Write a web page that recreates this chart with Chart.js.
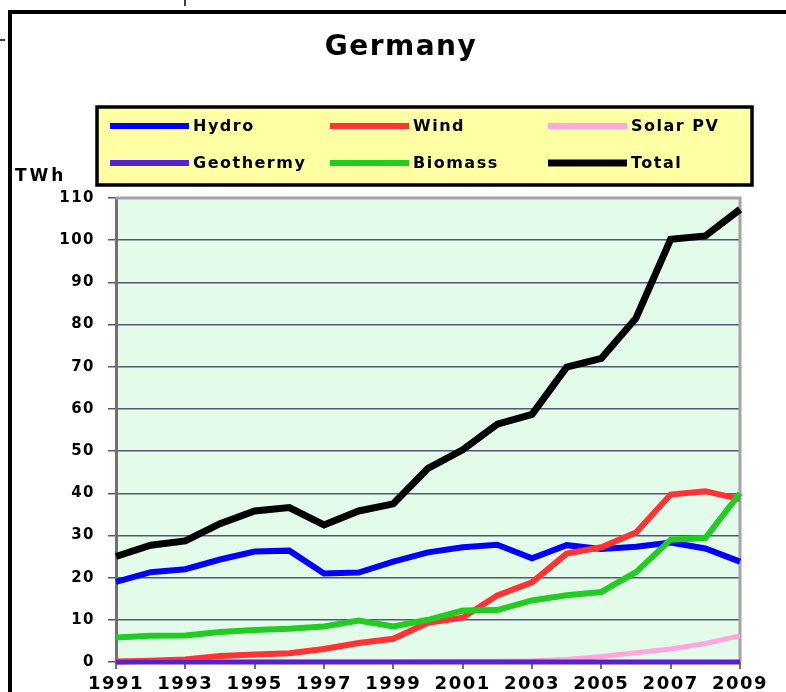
<!DOCTYPE html>
<html>
<head>
<meta charset="utf-8">
<title>Germany</title>
<script src="https://cdn.jsdelivr.net/npm/chart.js@4/dist/chart.umd.min.js"></script>
<style>
  html, body { margin: 0; padding: 0; background: #fff; }
  #wrap { width: 786px; height: 692px; position: relative; }
</style>
</head>
<body>
<div id="wrap"><canvas id="germanyChart" width="786" height="692"></canvas></div>
<script>
const years = ['1991', '1992', '1993', '1994', '1995', '1996', '1997', '1998', '1999', '2000',
  '2001', '2002', '2003', '2004', '2005', '2006', '2007', '2008', '2009'];

const hydro = [19.0, 21.3, 22.0, 24.3, 26.2, 26.4, 21.0, 21.2, 23.8, 26.0, 27.2, 27.8, 24.6, 27.7, 26.8, 27.3, 28.3, 26.9, 23.8];
const wind = [0.1, 0.3, 0.6, 1.4, 1.8, 2.1, 3.1, 4.5, 5.5, 9.3, 10.5, 15.8, 18.9, 25.7, 27.2, 30.7, 39.7, 40.5, 38.6];
const solarPV = [0, 0, 0, 0, 0, 0, 0, 0, 0, 0.1, 0.2, 0.2, 0.3, 0.6, 1.3, 2.2, 3.1, 4.4, 6.2];
const geothermy = [0, 0, 0, 0, 0, 0, 0, 0, 0, 0, 0, 0, 0, 0, 0, 0, 0, 0, 0];
const biomass = [5.8, 6.2, 6.3, 7.1, 7.6, 7.9, 8.4, 9.8, 8.4, 10.0, 12.2, 12.3, 14.6, 15.8, 16.6, 21.3, 29.0, 29.4, 40.0];
const total = [25.0, 27.7, 28.7, 32.8, 35.8, 36.6, 32.5, 35.8, 37.5, 45.9, 50.3, 56.4, 58.7, 69.9, 72.0, 81.5, 100.2, 101.0, 107.3];

const yTicks = [0, 10, 20, 30, 40, 50, 60, 70, 80, 90, 100, 110];

const FONT = "'DejaVu Sans', Verdana, sans-serif";

// legend layout: [column, row] for each dataset
const legendSlots = [[0, 0], [1, 0], [2, 0], [0, 1], [1, 1], [2, 1]];
const legendCols = [110, 330, 548];
const legendRows = [126, 163];

const frameAndLegend = {
  id: 'frameAndLegend',
  beforeDraw(chart) {
    const ctx = chart.ctx;
    const area = chart.chartArea;
    ctx.save();
    ctx.fillStyle = '#ffffff';
    ctx.fillRect(0, 0, chart.width, chart.height);

    // outer frame
    ctx.strokeStyle = '#000';
    ctx.lineWidth = 4;
    ctx.beginPath();
    ctx.moveTo(10, 692);
    ctx.lineTo(10, 12);
    ctx.lineTo(786, 12);
    ctx.stroke();
    ctx.lineWidth = 1.5;
    ctx.beginPath();
    ctx.moveTo(185, 0); ctx.lineTo(185, 6);
    ctx.moveTo(0, 40); ctx.lineTo(5, 40);
    ctx.stroke();

    // title
    ctx.fillStyle = '#000';
    ctx.font = 'bold 28px ' + FONT;
    ctx.letterSpacing = '1.5px';
    ctx.textAlign = 'center';
    ctx.textBaseline = 'middle';
    ctx.fillText('Germany', 401, 48);

    // legend box
    ctx.fillStyle = '#ffffa4';
    ctx.fillRect(97, 107, 655, 78);
    ctx.lineWidth = 3.5;
    ctx.strokeStyle = '#000';
    ctx.strokeRect(97, 107, 655, 78);

    ctx.font = 'bold 16px ' + FONT;
    ctx.letterSpacing = '1.5px';
    ctx.textAlign = 'left';
    chart.data.datasets.forEach((ds, i) => {
      const [c, r] = legendSlots[i];
      const x = legendCols[c];
      const y = legendRows[r];
      ctx.strokeStyle = ds.borderColor;
      ctx.lineWidth = ds.label === 'Total' ? 7 : 6;
      ctx.lineCap = 'butt';
      ctx.beginPath();
      ctx.moveTo(x, y);
      ctx.lineTo(x + 79, y);
      ctx.stroke();
      ctx.fillStyle = '#000';
      ctx.fillText(ds.label, x + 83, y + 1);
    });

    // unit label
    ctx.font = 'bold 17px ' + FONT;
    ctx.letterSpacing = '3px';
    ctx.fillText('TWh', 15, 177);

    // plot background
    ctx.fillStyle = '#e2fce9';
    ctx.fillRect(area.left, area.top, area.right - area.left, area.bottom - area.top);
    ctx.restore();
    ctx.letterSpacing = '1.5px';
  },
  beforeDatasetsDraw(chart) {
    const ctx = chart.ctx;
    const area = chart.chartArea;
    ctx.save();
    ctx.strokeStyle = '#a8a0a8';
    ctx.lineWidth = 3;
    ctx.beginPath();
    ctx.moveTo(area.left, area.top);
    ctx.lineTo(area.right, area.top);
    ctx.lineTo(area.right, area.bottom);
    ctx.stroke();
    ctx.restore();
  }
};

const ctx = document.getElementById('germanyChart').getContext('2d');

new Chart(ctx, {
  type: 'line',
  data: {
    labels: years,
    datasets: [
      { label: 'Hydro', data: hydro, borderColor: '#0000ff', borderWidth: 6, order: 5 },
      { label: 'Wind', data: wind, borderColor: '#ff3333', borderWidth: 6, order: 4, clip: 4 },
      { label: 'Solar PV', data: solarPV, borderColor: '#ffa6dc', borderWidth: 5, order: 3 },
      { label: 'Geothermy', data: geothermy, borderColor: '#5522cc', borderWidth: 5, order: 2, clip: 4 },
      { label: 'Biomass', data: biomass, borderColor: '#22cc22', borderWidth: 6, order: 1 },
      { label: 'Total', data: total, borderColor: '#000000', borderWidth: 7, order: 0 }
    ]
  },
  options: {
    responsive: false,
    animation: false,
    events: [],
    layout: {
      padding: { top: 198, right: 46, left: 0, bottom: 0 }
    },
    elements: {
      point: { radius: 0 },
      line: { tension: 0, borderJoinStyle: 'miter', borderCapStyle: 'butt', fill: false }
    },
    plugins: {
      legend: { display: false },
      title: { display: false },
      tooltip: { enabled: false }
    },
    scales: {
      x: {
        type: 'category',
        offset: false,
        afterFit: (scale) => { scale.height = 30; },
        border: { display: true, color: '#707070', width: 2 },
        grid: { drawOnChartArea: false, drawTicks: true, tickLength: 7, color: '#707070', lineWidth: 2 },
        ticks: {
          autoSkip: false,
          maxRotation: 0,
          padding: 5,
          color: '#000',
          font: { family: FONT, size: 18, weight: 'bold' },
          callback: function (value, index) {
            return index % 2 === 0 ? this.getLabelForValue(value) : null;
          }
        }
      },
      y: {
        min: 0,
        max: 110,
        afterFit: (scale) => { scale.width = 116; },
        afterBuildTicks: (scale) => { scale.ticks = yTicks.map(v => ({ value: v })); },
        border: { display: true, color: '#707070', width: 3 },
        grid: { color: '#55557a', lineWidth: 1.5, tickLength: 8 },
        ticks: {
          padding: 13,
          color: '#000',
          font: { family: FONT, size: 15, weight: 'bold' }
        }
      }
    }
  },
  plugins: [frameAndLegend]
});
</script>
</body>
</html>
